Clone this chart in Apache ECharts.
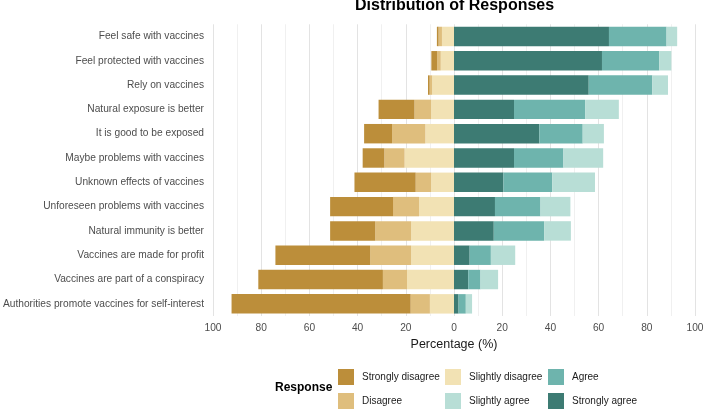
<!DOCTYPE html>
<html>
<head>
<meta charset="utf-8">
<title>Distribution of Responses</title>
<script src="https://cdn.jsdelivr.net/npm/echarts@6/dist/echarts.min.js"></script>
<style>
    html, body { margin: 0; padding: 0; background: #fff; }
    #main { width: 703px; height: 409px; }
</style>
</head>
<body>
<div id="main"></div>
<script>
// ====================== 数据 ======================
var statements = [
    'Feel safe with vaccines',
    'Feel protected with vaccines',
    'Rely on vaccines',
    'Natural exposure is better',
    'It is good to be exposed',
    'Maybe problems with vaccines',
    'Unknown effects of vaccines',
    'Unforeseen problems with vaccines',
    'Natural immunity is better',
    'Vaccines are made for profit',
    'Vaccines are part of a conspiracy',
    'Authorities promote vaccines for self-interest'
];

// disagree side (percent, drawn to the left)
var slightlyDisagree = [5.0, 5.5, 9.1, 9.5, 11.9, 20.5, 9.5, 14.5, 17.8, 17.8, 19.5, 10.0];
var disagree         = [1.4, 1.5, 1.0, 6.9, 13.8, 8.4, 6.4, 10.8, 14.9, 17.0, 10.0, 8.0];
var stronglyDisagree = [0.7, 2.4, 0.7, 14.9, 11.6, 9.0, 25.4, 26.1, 18.7, 39.3, 51.7, 74.3];

// agree side (percent, drawn to the right)
var stronglyAgree = [64.3, 61.4, 55.9, 24.9, 35.4, 24.9, 20.5, 17.0, 16.5, 6.5, 5.9, 1.9];
var agree         = [23.9, 23.8, 26.4, 29.5, 18.0, 20.5, 20.3, 18.9, 20.9, 8.8, 5.1, 3.0];
var slightlyAgree = [4.4, 5.0, 6.5, 14.0, 8.8, 16.5, 17.7, 12.4, 11.1, 10.1, 7.3, 2.6];

var colors = {
    'Strongly disagree': '#bc8e3a',
    'Disagree': '#dfbe7d',
    'Slightly disagree': '#f2e2b4',
    'Slightly agree': '#b8ded6',
    'Agree': '#6eb4ad',
    'Strongly agree': '#3d7b73'
};

var fontFamily = 'Liberation Sans, Arial, sans-serif';

function neg(arr) {
    return arr.map(function (v) { return -v; });
}

function makeSeries(name, data) {
    return {
        name: name,
        type: 'bar',
        stack: 'total',
        barCategoryGap: '20%',
        data: data,
        itemStyle: { color: colors[name] },
        emphasis: { disabled: true }
    };
}

function makeLegend(left, items) {
    return {
        orient: 'vertical',
        left: left,
        top: 369,
        padding: 0,
        itemWidth: 16,
        itemHeight: 16,
        itemGap: 8,
        icon: 'rect',
        selectedMode: false,
        data: items,
        textStyle: {
            fontFamily: fontFamily,
            fontSize: 10,
            color: '#1a1a1a',
            padding: [0, 0, 0, 3]
        }
    };
}

// ====================== 图表 ======================
var chart = echarts.init(document.getElementById('main'));

var option = {
    backgroundColor: '#ffffff',
    animation: false,
    title: [{
        text: 'Distribution of Responses',
        left: 355,
        top: -2,
        padding: 0,
        textStyle: {
            fontFamily: fontFamily,
            fontSize: 16,
            fontWeight: 'bold',
            color: '#000'
        }
    }, {
        text: 'Response',
        left: 275,
        top: 382,
        padding: 0,
        textStyle: {
            fontFamily: fontFamily,
            fontSize: 12,
            fontWeight: 'bold',
            color: '#000'
        }
    }],
    legend: [
        makeLegend(338, ['Strongly disagree', 'Disagree']),
        makeLegend(445, ['Slightly disagree', 'Slightly agree']),
        makeLegend(548, ['Agree', 'Strongly agree'])
    ],
    grid: {
        left: 213,
        right: 8,
        top: 24.3,
        height: 291.7,
        outerBoundsMode: 'none',
        containLabel: false
    },
    xAxis: {
        type: 'value',
        min: -100,
        max: 100,
        interval: 20,
        name: 'Percentage (%)',
        nameLocation: 'middle',
        nameGap: 22,
        nameTextStyle: {
            fontFamily: fontFamily,
            fontSize: 12.5,
            color: '#1a1a1a'
        },
        axisLine: { show: false },
        axisTick: { show: false },
        axisLabel: {
            margin: 7,
            fontFamily: fontFamily,
            fontSize: 10.2,
            color: '#4d4d4d',
            formatter: function (v) { return Math.abs(v); }
        },
        splitLine: { lineStyle: { color: '#e3e3e3', width: 1 } },
        minorTick: { show: false, splitNumber: 2 },
        minorSplitLine: { show: true, lineStyle: { color: '#f0f0f0', width: 1 } }
    },
    yAxis: {
        type: 'category',
        inverse: true,
        data: statements,
        axisLine: { show: false },
        axisTick: { show: false },
        axisLabel: {
            margin: 9,
            fontFamily: fontFamily,
            fontSize: 10.2,
            color: '#4d4d4d'
        },
        splitLine: { show: false }
    },
    series: [
        makeSeries('Slightly disagree', neg(slightlyDisagree)),
        makeSeries('Disagree', neg(disagree)),
        makeSeries('Strongly disagree', neg(stronglyDisagree)),
        makeSeries('Strongly agree', stronglyAgree),
        makeSeries('Agree', agree),
        makeSeries('Slightly agree', slightlyAgree)
    ]
};

chart.setOption(option);
</script>
</body>
</html>
